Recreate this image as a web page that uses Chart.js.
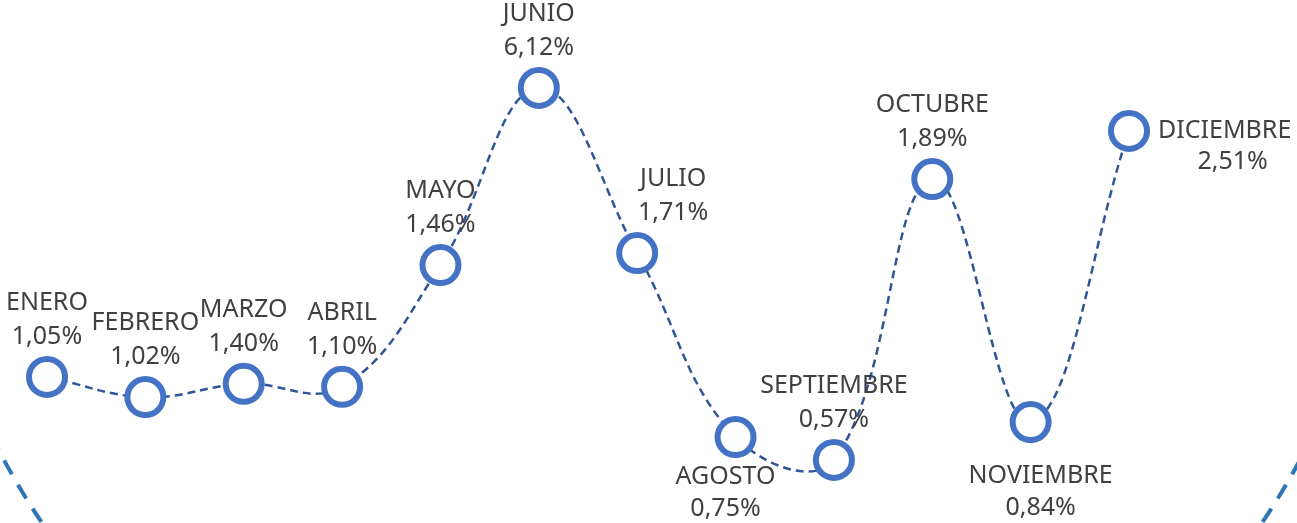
<!DOCTYPE html>
<html lang="es">
<head>
<meta charset="utf-8">
<title>Variación mensual</title>
<script src="https://cdn.jsdelivr.net/npm/chart.js@4/dist/chart.umd.min.js"></script>
<style>
  html, body { margin: 0; padding: 0; background: #fff; }
  canvas { display: block; }
</style>
</head>
<body>
<canvas id="grafico" width="1297" height="523"></canvas>
<script>
// Meses y porcentajes que se ven en las etiquetas
const meses = ['ENERO', 'FEBRERO', 'MARZO', 'ABRIL', 'MAYO', 'JUNIO',
               'JULIO', 'AGOSTO', 'SEPTIEMBRE', 'OCTUBRE', 'NOVIEMBRE', 'DICIEMBRE'];
const porcentajes = ['1,05%', '1,02%', '1,40%', '1,10%', '1,46%', '6,12%',
                     '1,71%', '0,75%', '0,57%', '1,89%', '0,84%', '2,51%'];
// Altura de cada punto en la línea (eje oculto 0-100), estimada del dibujo
const nivel = [26.3, 21.6, 24.7, 24.0, 52.3, 93.5, 55.1, 12.3, 7.0, 72.3, 15.8, 83.5];

// Donde va la etiqueta cuando no va encima del punto
const ubicacion = { AGOSTO: 'abajo', NOVIEMBRE: 'abajo', DICIEMBRE: 'derecha' };
// corrimientos de algunas etiquetas para no pisar la línea
const corrimientoX = { JULIO: 36, AGOSTO: -10, NOVIEMBRE: 10 };
const corrimientoY = { AGOSTO: -6, NOVIEMBRE: 8 };

const fuente = '25px "Noto Sans", "DejaVu Sans", sans-serif';

// Arco punteado decorativo del fondo
const arcoFondo = {
    id: 'arcoFondo',
    beforeDraw(chart) {
        const ctx = chart.ctx;
        ctx.save();
        ctx.strokeStyle = '#2E75B6';
        ctx.lineWidth = 4;
        ctx.setLineDash([16, 12]);
        ctx.beginPath();
        ctx.arc(652, 111, 736, 0, Math.PI * 2);
        ctx.stroke();
        ctx.restore();
    }
};

// Nombre del mes y porcentaje junto a cada punto
const etiquetas = {
    id: 'etiquetas',
    afterDatasetsDraw(chart) {
        const ctx = chart.ctx;
        const puntos = chart.getDatasetMeta(0).data;
        ctx.save();
        ctx.font = fuente;
        ctx.fillStyle = '#404040';
        ctx.textBaseline = 'middle';
        puntos.forEach(function(p, i) {
            const mes = meses[i];
            const donde = ubicacion[mes] || 'arriba';
            const x = p.x + (corrimientoX[mes] || 0);
            const y = p.y + (corrimientoY[mes] || 0);
            if (donde === 'derecha') {
                ctx.textAlign = 'left';
                const x0 = x + 29;
                const w = ctx.measureText(mes).width;
                ctx.fillText(mes, x0, y);
                ctx.textAlign = 'center';
                ctx.fillText(porcentajes[i], x0 + w / 2 + 8, y + 31);
            } else if (donde === 'abajo') {
                ctx.textAlign = 'center';
                ctx.fillText(mes, x, y + 46);
                ctx.fillText(porcentajes[i], x, y + 78);
            } else {
                ctx.textAlign = 'center';
                ctx.fillText(mes, x, y - 74);
                ctx.fillText(porcentajes[i], x, y - 40);
            }
        });
        ctx.restore();
    }
};

new Chart(document.getElementById('grafico'), {
    type: 'line',
    data: {
        labels: meses,
        datasets: [{
            data: nivel,
            borderColor: '#2F5597',
            borderWidth: 2.5,
            borderDash: [8, 5],
            tension: 0.4,
            fill: false,
            clip: false,
            pointRadius: 18,
            pointBorderWidth: 6,
            pointBackgroundColor: '#ffffff',
            pointBorderColor: '#4472C4'
        }]
    },
    options: {
        responsive: false,
        animation: false,
        layout: {
            padding: { left: 47, right: 168, top: 60, bottom: 33 }
        },
        plugins: {
            legend: { display: false },
            tooltip: { enabled: false }
        },
        scales: {
            x: { display: false, offset: false },
            y: { display: false, min: 0, max: 100 }
        }
    },
    plugins: [arcoFondo, etiquetas]
});
</script>
</body>
</html>
